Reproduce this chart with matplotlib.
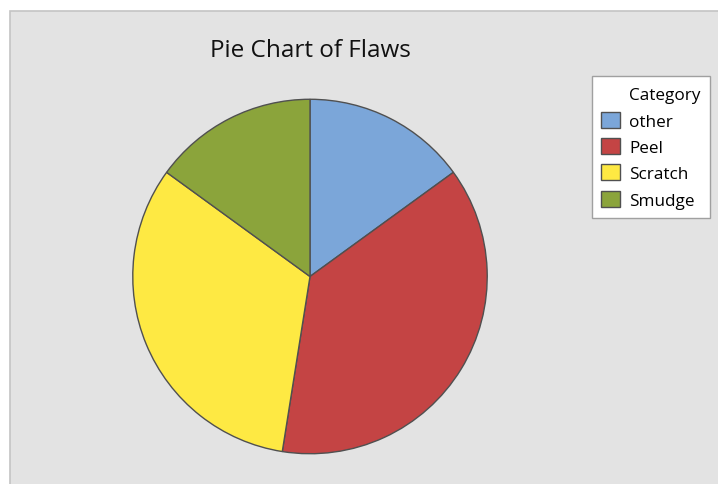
import matplotlib.pyplot as plt
from matplotlib.patches import Rectangle, Patch

# data
cats = ['other', 'Peel', 'Scratch', 'Smudge']
counts = [6, 15, 13, 6]
colors = ['#7ba6d9', '#c44444', '#fee943', '#8ba43b']

W, H = 718, 485
fig = plt.figure(figsize=(W / 100, H / 100), dpi=100)
fig.patch.set_facecolor('white')

# grey panel behind everything
bg = Rectangle((10 / W, -0.1), 1.2, (H - 12) / H + 0.1, transform=fig.transFigure,
               facecolor='#e3e3e3', edgecolor='#c4c4c4', lw=1.2, zorder=-5)
fig.patches.append(bg)

# pie axes placed so the circle sits where it is in the reference
cx, cy, r = 310, 277.5, 179
ax = fig.add_axes([(cx - r) / W, (H - cy - r) / H, 2 * r / W, 2 * r / H])
ax.set_facecolor('none')
ax.pie(counts, colors=colors, startangle=90, counterclock=False, radius=1,
       wedgeprops=dict(edgecolor='#505050', linewidth=1.0))
ax.set_xlim(-1.01, 1.01)
ax.set_ylim(-1.01, 1.01)
ax.axis('off')

fig.text(cx / W, 1 - 51 / H, 'Pie Chart of Flaws', ha='center', va='center',
         fontsize=17.5, family='Open Sans', color='#111111')

# legend, with the title as a blank first row so it lines up with labels
handles = [Patch(facecolor='none', edgecolor='none')]
for c in colors:
    handles.append(Patch(facecolor=c, edgecolor='#505050', linewidth=1.0))
labels = ['Category'] + cats
leg = fig.legend(handles, labels, loc='upper left',
                 bbox_to_anchor=(592 / W, 1 - 77 / H),
                 bbox_transform=fig.transFigure,
                 fancybox=False, frameon=True, framealpha=1,
                 edgecolor='#a0a0a0', facecolor='white',
                 prop={'family': 'Open Sans', 'size': 12.3},
                 handlelength=1.06, handleheight=1.06, handletextpad=0.55,
                 labelspacing=0.5, borderpad=0.55, borderaxespad=0)
leg.get_frame().set_linewidth(1.0)

fig.savefig('out.png', dpi=100)
